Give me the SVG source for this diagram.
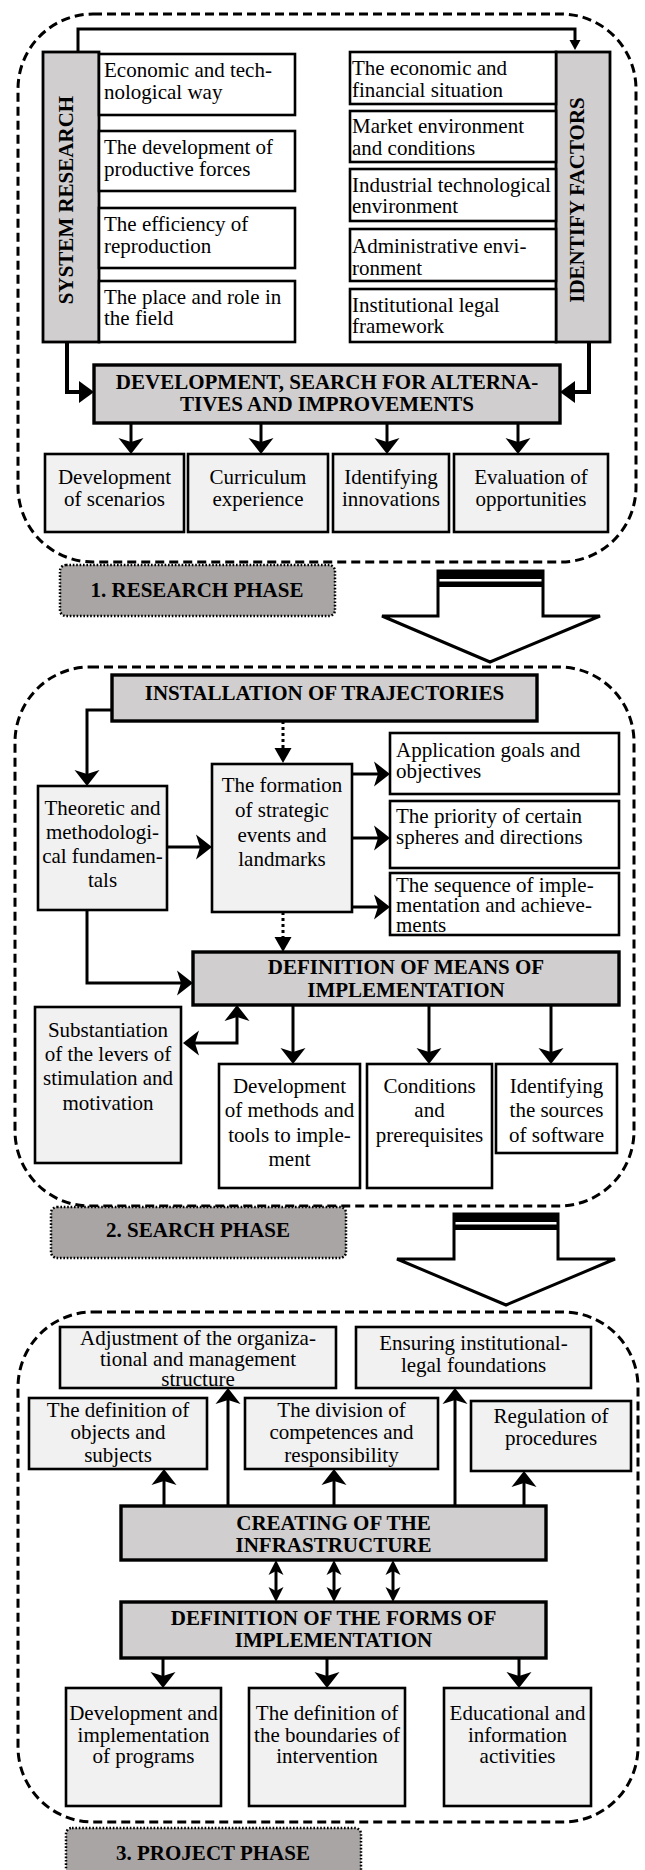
<svg xmlns="http://www.w3.org/2000/svg" width="645" height="1870" viewBox="0 0 645 1870">
<style>
.t{font-family:"Liberation Serif","Times New Roman",serif;font-size:21px;fill:#000}
.c{text-anchor:middle}
.b{font-weight:bold}
.box{fill:#fff;stroke:#000;stroke-width:2.6}
.lbox{fill:#f1f1f1;stroke:#000;stroke-width:2.6}
.gbox{fill:#d0cece;stroke:#000;stroke-width:3.4}
.phase{fill:none;stroke:#000;stroke-width:3;stroke-dasharray:9 5}
.lab{fill:#a9a5a5;stroke:#000;stroke-width:2.5;stroke-dasharray:1.6 1.8}
.ln{fill:none;stroke:#000;stroke-width:3}
.lnb{fill:none;stroke:#000;stroke-width:4}
.dot{fill:none;stroke:#000;stroke-width:3;stroke-dasharray:3 3}
.big{fill:#fff;stroke:#000;stroke-width:3;stroke-linejoin:miter}
</style>
<defs>
<marker id="ah" viewBox="0 -13 16 26" refX="8" refY="0" markerWidth="16" markerHeight="26" orient="auto" markerUnits="userSpaceOnUse"><path d="M0,-12.5 L16,0 L0,12.5 L4,0 z"/></marker>
<marker id="ahs" viewBox="0 -8 15 16" refX="7" refY="0" markerWidth="15" markerHeight="16" orient="auto-start-reverse" markerUnits="userSpaceOnUse"><path d="M0,-7.5 L15,0 L0,7.5 L4,0 z"/></marker>
<marker id="ahr" viewBox="0 -13 16 26" refX="8" refY="0" markerWidth="16" markerHeight="26" orient="auto-start-reverse" markerUnits="userSpaceOnUse"><path d="M0,-12.5 L16,0 L0,12.5 L4,0 z"/></marker>
<marker id="tri" viewBox="0 -11 15 22" refX="7" refY="0" markerWidth="15" markerHeight="22" orient="auto" markerUnits="userSpaceOnUse"><path d="M0,-11 L15,0 L0,11 z"/></marker>
<marker id="trid" viewBox="0 -9 15 18" refX="7" refY="0" markerWidth="15" markerHeight="18" orient="auto" markerUnits="userSpaceOnUse"><path d="M0,-8.5 L15,0 L0,8.5 z"/></marker>
<marker id="tris" viewBox="0 -6 10 12" refX="2" refY="0" markerWidth="10" markerHeight="12" orient="auto" markerUnits="userSpaceOnUse"><path d="M0,-5.5 L10,0 L0,5.5 z"/></marker>
</defs>

<!-- PHASE 1 -->
<rect id="phase1" class="phase" x="18" y="14" width="618" height="548" rx="75"/>
<g id="system-research"><rect class="gbox" x="43" y="52" width="56" height="290" style="stroke-width:2.8"/><text class="t b c" transform="translate(73,200) rotate(-90)">SYSTEM RESEARCH</text></g>
<g id="identify-factors"><rect class="gbox" x="556" y="52" width="54" height="290" style="stroke-width:2.8"/><text class="t b c" transform="translate(584,200) rotate(-90)">IDENTIFY FACTORS</text></g>
<g id="sr1"><rect class="box" x="99" y="54" width="196" height="61"/><text class="t" x="104" y="77">Economic and tech-</text><text class="t" x="104" y="99">nological way</text></g>
<g id="sr2"><rect class="box" x="99" y="131" width="196" height="60"/><text class="t" x="104" y="154">The development of</text><text class="t" x="104" y="176">productive forces</text></g>
<g id="sr3"><rect class="box" x="99" y="208" width="196" height="60"/><text class="t" x="104" y="231">The efficiency of</text><text class="t" x="104" y="253">reproduction</text></g>
<g id="sr4"><rect class="box" x="99" y="281" width="196" height="61"/><text class="t" x="104" y="304">The place and role in</text><text class="t" x="104" y="325">the field</text></g>
<g id="if1"><rect class="box" x="350" y="52" width="206" height="52"/><text class="t" x="352" y="75">The economic and</text><text class="t" x="352" y="97">financial situation</text></g>
<g id="if2"><rect class="box" x="350" y="111" width="206" height="51"/><text class="t" x="352" y="133">Market environment</text><text class="t" x="352" y="155">and conditions</text></g>
<g id="if3"><rect class="box" x="350" y="169" width="206" height="52"/><text class="t" x="352" y="192">Industrial technological</text><text class="t" x="352" y="213">environment</text></g>
<g id="if4"><rect class="box" x="350" y="229" width="206" height="52"/><text class="t" x="352" y="253">Administrative envi-</text><text class="t" x="352" y="275">ronment</text></g>
<g id="if5"><rect class="box" x="350" y="289" width="206" height="53"/><text class="t" x="352" y="312">Institutional legal</text><text class="t" x="352" y="333">framework</text></g>
<g id="development"><rect class="gbox" x="94" y="365" width="466" height="58"/><text class="t b c" x="327" y="389">DEVELOPMENT, SEARCH FOR ALTERNA-</text><text class="t b c" x="327" y="411">TIVES AND IMPROVEMENTS</text></g>
<g id="d1"><rect class="lbox" x="45" y="454" width="139" height="78"/><text class="t c" x="114.5" y="484">Development</text><text class="t c" x="114.5" y="506">of scenarios</text></g>
<g id="d2"><rect class="lbox" x="188" y="454" width="140" height="78"/><text class="t c" x="258" y="484">Curriculum</text><text class="t c" x="258" y="506">experience</text></g>
<g id="d3"><rect class="lbox" x="333" y="454" width="116" height="78"/><text class="t c" x="391" y="484">Identifying</text><text class="t c" x="391" y="506">innovations</text></g>
<g id="d4"><rect class="lbox" x="454" y="454" width="154" height="78"/><text class="t c" x="531" y="484">Evaluation of</text><text class="t c" x="531" y="506">opportunities</text></g>
<g id="label1"><rect class="lab" x="60" y="565" width="275" height="51" rx="6"/><text class="t b c" x="197" y="597">1. RESEARCH PHASE</text></g>
<g id="bigarrow1"><polygon class="big" points="438,571 543,571 543,616 600,616 490,662 382,616 438,616"/><rect x="437" y="570" width="107" height="9" fill="#000"/><rect x="437" y="581.5" width="107" height="5.5" fill="#000"/></g>

<!-- PHASE 2 -->
<rect id="phase2" class="phase" x="15" y="667" width="619" height="539" rx="75"/>
<g id="installation"><rect class="gbox" x="112" y="675" width="425" height="46"/><text class="t b c" x="324.5" y="700">INSTALLATION OF TRAJECTORIES</text></g>
<g id="theoretic"><rect class="lbox" x="38" y="786" width="129" height="124"/><text class="t c" x="102.5" y="815">Theoretic and</text><text class="t c" x="102.5" y="839">methodologi-</text><text class="t c" x="102.5" y="863">cal fundamen-</text><text class="t c" x="102.5" y="887">tals</text></g>
<g id="formation"><rect class="lbox" x="212" y="764" width="140" height="148"/><text class="t c" x="282" y="792">The formation</text><text class="t c" x="282" y="817">of strategic</text><text class="t c" x="282" y="842">events and</text><text class="t c" x="282" y="866">landmarks</text></g>
<g id="goals"><rect class="box" x="390" y="733" width="229" height="61"/><text class="t" x="396" y="757">Application goals and</text><text class="t" x="396" y="778">objectives</text></g>
<g id="priority"><rect class="box" x="390" y="801" width="229" height="67"/><text class="t" x="396" y="823">The priority of certain</text><text class="t" x="396" y="844">spheres and directions</text></g>
<g id="sequence"><rect class="box" x="390" y="873" width="229" height="62"/><text class="t" x="396" y="892">The sequence of imple-</text><text class="t" x="396" y="912">mentation and achieve-</text><text class="t" x="396" y="932">ments</text></g>
<g id="means"><rect class="gbox" x="193" y="952" width="426" height="53"/><text class="t b c" x="406" y="974">DEFINITION OF MEANS OF</text><text class="t b c" x="406" y="997">IMPLEMENTATION</text></g>
<g id="substantiation"><rect class="lbox" x="35" y="1007" width="146" height="156"/><text class="t c" x="108" y="1037">Substantiation</text><text class="t c" x="108" y="1061">of the levers of</text><text class="t c" x="108" y="1085">stimulation and</text><text class="t c" x="108" y="1110">motivation</text></g>
<g id="methods"><rect class="box" x="219" y="1064" width="141" height="124"/><text class="t c" x="289.5" y="1093">Development</text><text class="t c" x="289.5" y="1117">of methods and</text><text class="t c" x="289.5" y="1142">tools to imple-</text><text class="t c" x="289.5" y="1166">ment</text></g>
<g id="conditions"><rect class="box" x="367" y="1064" width="125" height="124"/><text class="t c" x="429.5" y="1093">Conditions</text><text class="t c" x="429.5" y="1117">and</text><text class="t c" x="429.5" y="1142">prerequisites</text></g>
<g id="sources"><rect class="box" x="496" y="1064" width="121" height="89"/><text class="t c" x="556.5" y="1093">Identifying</text><text class="t c" x="556.5" y="1117">the sources</text><text class="t c" x="556.5" y="1142">of software</text></g>
<g id="label2"><rect class="lab" x="51" y="1207" width="295" height="51" rx="6"/><text class="t b c" x="198" y="1237">2. SEARCH PHASE</text></g>
<g id="bigarrow2"><polygon class="big" points="454,1214 558,1214 558,1259 615,1259 506,1305 397,1259 454,1259"/><rect x="453" y="1213" width="106" height="9" fill="#000"/><rect x="453" y="1224.5" width="106" height="5.5" fill="#000"/></g>

<!-- PHASE 3 -->
<rect id="phase3" class="phase" x="18" y="1312" width="620" height="510" rx="75"/>
<g id="adjustment"><rect class="lbox" x="60" y="1327" width="276" height="61"/><text class="t c" x="198" y="1345">Adjustment of the organiza-</text><text class="t c" x="198" y="1366">tional and management</text><text class="t c" x="198" y="1386">structure</text></g>
<g id="ensuring"><rect class="lbox" x="356" y="1327" width="235" height="61"/><text class="t c" x="473.5" y="1350">Ensuring institutional-</text><text class="t c" x="473.5" y="1372">legal foundations</text></g>
<g id="objects"><rect class="lbox" x="29" y="1398" width="178" height="71"/><text class="t c" x="118" y="1417">The definition of</text><text class="t c" x="118" y="1439">objects and</text><text class="t c" x="118" y="1462">subjects</text></g>
<g id="division"><rect class="lbox" x="245" y="1398" width="193" height="71"/><text class="t c" x="341.5" y="1417">The division of</text><text class="t c" x="341.5" y="1439">competences and</text><text class="t c" x="341.5" y="1462">responsibility</text></g>
<g id="regulation"><rect class="lbox" x="471" y="1401" width="160" height="70"/><text class="t c" x="551" y="1423">Regulation of</text><text class="t c" x="551" y="1445">procedures</text></g>
<g id="creating"><rect class="gbox" x="121" y="1506" width="425" height="54"/><text class="t b c" x="333.5" y="1530">CREATING OF THE</text><text class="t b c" x="333.5" y="1552">INFRASTRUCTURE</text></g>
<g id="forms"><rect class="gbox" x="121" y="1602" width="425" height="56"/><text class="t b c" x="333.5" y="1625">DEFINITION OF THE FORMS OF</text><text class="t b c" x="333.5" y="1647">IMPLEMENTATION</text></g>
<g id="programs"><rect class="lbox" x="66" y="1688" width="155" height="118"/><text class="t c" x="143.5" y="1720">Development and</text><text class="t c" x="143.5" y="1742">implementation</text><text class="t c" x="143.5" y="1763">of programs</text></g>
<g id="boundaries"><rect class="lbox" x="249" y="1688" width="156" height="118"/><text class="t c" x="327" y="1720">The definition of</text><text class="t c" x="327" y="1742">the boundaries of</text><text class="t c" x="327" y="1763">intervention</text></g>
<g id="educational"><rect class="lbox" x="444" y="1688" width="147" height="118"/><text class="t c" x="517.5" y="1720">Educational and</text><text class="t c" x="517.5" y="1742">information</text><text class="t c" x="517.5" y="1763">activities</text></g>
<g id="label3"><rect class="lab" x="66" y="1828" width="295" height="52" rx="6"/><text class="t b c" x="213" y="1860">3. PROJECT PHASE</text></g>

<!-- CONNECTORS -->
<g id="connectors">
<path class="ln" d="M78,52 V29 H575 V42" marker-end="url(#tris)"/>
<path class="lnb" d="M67,342 V392 H86" marker-end="url(#tri)"/>
<path class="lnb" d="M589,342 V392 H568" marker-end="url(#tri)"/>
<path class="ln" d="M131,423 V446" marker-end="url(#ah)"/>
<path class="ln" d="M261,423 V446" marker-end="url(#ah)"/>
<path class="ln" d="M387,423 V446" marker-end="url(#ah)"/>
<path class="ln" d="M518,423 V446" marker-end="url(#ah)"/>

<path class="ln" d="M112,710 H87 V778" marker-end="url(#ah)"/>
<path class="dot" d="M283,721 V755" marker-end="url(#trid)"/>
<path class="ln" d="M167,847 H204" marker-end="url(#ah)"/>
<path class="ln" d="M352,774 H382" marker-end="url(#ah)"/>
<path class="ln" d="M352,838 H382" marker-end="url(#ah)"/>
<path class="ln" d="M352,907 H382" marker-end="url(#ah)"/>
<path class="dot" d="M283,912 V944" marker-end="url(#trid)"/>
<path class="ln" d="M87,910 V983 H185" marker-end="url(#ah)"/>
<path class="ln" d="M191,1043 H237 V1013" marker-start="url(#ahr)" marker-end="url(#ahr)"/>
<path class="ln" d="M293,1005 V1056" marker-end="url(#ah)"/>
<path class="ln" d="M429,1005 V1056" marker-end="url(#ah)"/>
<path class="ln" d="M551,1005 V1056" marker-end="url(#ah)"/>

<path class="ln" d="M164,1506 V1477" marker-end="url(#ah)"/>
<path class="ln" d="M228,1506 V1396" marker-end="url(#ah)"/>
<path class="ln" d="M334,1506 V1477" marker-end="url(#ah)"/>
<path class="ln" d="M455,1506 V1396" marker-end="url(#ah)"/>
<path class="ln" d="M524,1506 V1479" marker-end="url(#ah)"/>
<path class="ln" d="M276,1568 V1594" marker-start="url(#ahs)" marker-end="url(#ahs)"/>
<path class="ln" d="M334,1568 V1594" marker-start="url(#ahs)" marker-end="url(#ahs)"/>
<path class="ln" d="M393,1568 V1594" marker-start="url(#ahs)" marker-end="url(#ahs)"/>
<path class="ln" d="M163,1658 V1680" marker-end="url(#ah)"/>
<path class="ln" d="M327,1658 V1680" marker-end="url(#ah)"/>
<path class="ln" d="M519,1658 V1680" marker-end="url(#ah)"/>
</g>
</svg>
